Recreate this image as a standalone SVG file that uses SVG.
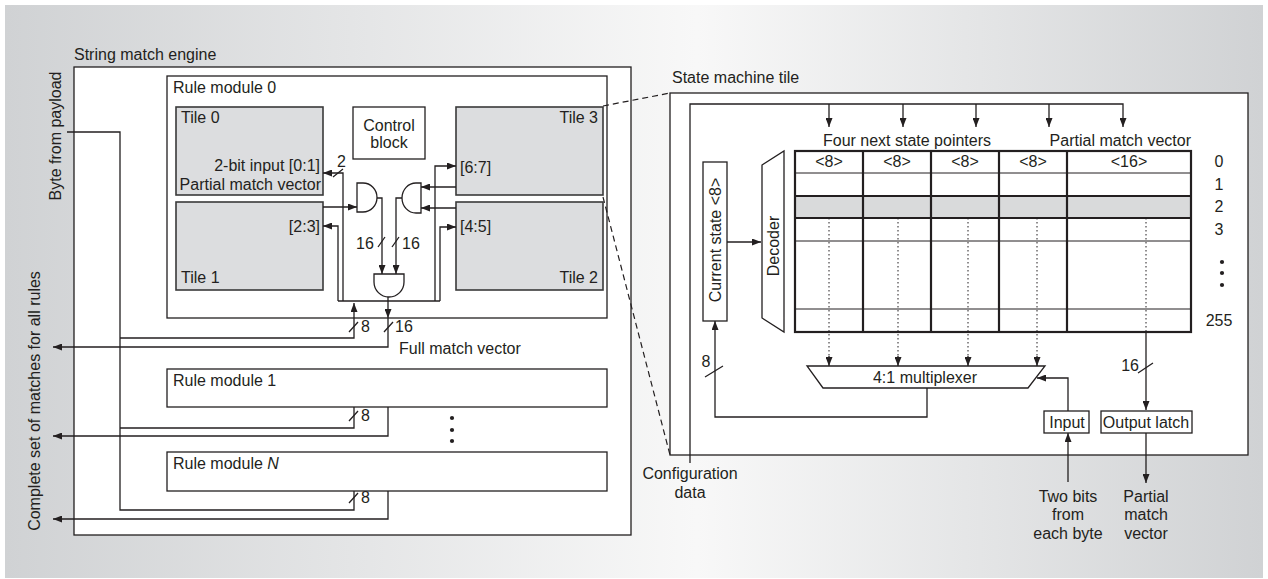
<svg xmlns="http://www.w3.org/2000/svg" width="1268" height="579" viewBox="0 0 1268 579">
<defs>
<linearGradient id="bg" x1="0" y1="0" x2="1" y2="0">
<stop offset="0" stop-color="#d0d2d4"/>
<stop offset="0.55" stop-color="#f8f8f8"/>
<stop offset="1" stop-color="#d0d2d4"/>
</linearGradient>
<marker id="ah" markerWidth="9" markerHeight="7" refX="9" refY="3.5" orient="auto" markerUnits="userSpaceOnUse">
<path d="M0,0 L9,3.5 L0,7 z" fill="#231f20"/>
</marker>
</defs>
<style>
.ln{fill:none;stroke:#231f20;stroke-width:1.3}
.ar{fill:none;stroke:#231f20;stroke-width:1.3;marker-end:url(#ah)}
.dt{fill:none;stroke:#231f20;stroke-width:1;stroke-dasharray:1.5,2.5}
.dash{fill:none;stroke:#231f20;stroke-width:1.2;stroke-dasharray:6,4}
.box{fill:#fff;stroke:#231f20;stroke-width:1.3}
.tile{fill:#dcdddf;stroke:#3a3a3a;stroke-width:1.6}
.thick{fill:none;stroke:#231f20;stroke-width:2.2}
.thin{fill:none;stroke:#231f20;stroke-width:1}
.t{font-family:"Liberation Sans",Arial,sans-serif;font-size:16px;fill:#231f20}
.m{text-anchor:middle}
.e{text-anchor:end}
</style>
<rect x="5" y="5" width="1258" height="573" fill="url(#bg)"/>

<g id="string-match-engine">
<rect class="box" x="74" y="67" width="557" height="468"/>
<text class="t" x="74" y="60">String match engine</text>
</g>
<text class="t m" transform="translate(61,136) rotate(-90)">Byte from payload</text>
<text class="t m" transform="translate(40,401) rotate(-90)">Complete set of matches for all rules</text>

<g id="rule-module-0">
<rect class="box" x="167" y="76" width="440" height="242"/>
<text class="t" x="173" y="93">Rule module 0</text>
</g>
<g id="tile-0">
<rect class="tile" x="176" y="107" width="147" height="88"/>
<text class="t" x="181" y="123">Tile 0</text>
<text class="t e" x="320" y="171">2-bit input [0:1]</text>
<text class="t e" x="321" y="190">Partial match vector</text>
</g>
<g id="tile-1">
<rect class="tile" x="176" y="202" width="147" height="88"/>
<text class="t e" x="320" y="232">[2:3]</text>
<text class="t" x="181" y="283">Tile 1</text>
</g>
<g id="tile-3">
<rect class="tile" x="456" y="107" width="147" height="88"/>
<text class="t e" x="598" y="123">Tile 3</text>
<text class="t" x="460" y="173">[6:7]</text>
</g>
<g id="tile-2">
<rect class="tile" x="456" y="202" width="147" height="88"/>
<text class="t" x="460" y="232">[4:5]</text>
<text class="t e" x="598" y="283">Tile 2</text>
</g>
<g id="control-block">
<rect class="box" x="353" y="107" width="72" height="52"/>
<text class="t m" x="389" y="131">Control</text>
<text class="t m" x="389" y="148">block</text>
</g>
<g id="and-left"><path class="box" d="M357,183 H363 A14,14.5 0 0 1 363,212 H357 Z"/></g>
<g id="and-right"><path class="box" d="M421,183 H416 A14,15 0 0 0 416,213 H421 Z"/></g>
<g id="and-bottom"><path class="box" d="M374,274 H404 V282 A15,15 0 0 1 374,282 Z"/></g>

<g id="rule-module-1">
<rect class="box" x="167" y="369" width="440" height="38"/>
<text class="t" x="173" y="386">Rule module 1</text>
</g>
<g id="rule-module-n">
<rect class="box" x="167" y="452" width="440" height="39"/>
<text class="t" x="173" y="469">Rule module <tspan font-style="italic">N</tspan></text>
</g>
<g id="dots-left" fill="#231f20">
<circle cx="452" cy="418" r="2.1"/><circle cx="452" cy="430" r="2.1"/><circle cx="452" cy="441" r="2.1"/>
</g>

<g id="state-machine-tile">
<rect class="box" x="670" y="93" width="578" height="362"/>
<text class="t" x="672" y="83">State machine tile</text>
</g>
<g id="current-state">
<rect class="box" x="703" y="162" width="24" height="159"/>
<text class="t m" transform="translate(721,240) rotate(-90)">Current state &lt;8&gt;</text>
</g>
<g id="decoder">
<polygon class="box" points="762,165 784,151 784,332 762,318"/>
<text class="t m" transform="translate(779,246) rotate(-90)">Decoder</text>
</g>
<g id="table">
<rect x="795" y="196" width="396" height="22" fill="#d9dadb"/>
<line class="thin" x1="795" y1="173" x2="1191" y2="173"/>
<line class="thick" x1="795" y1="196" x2="1191" y2="196"/>
<line class="thick" x1="795" y1="218" x2="1191" y2="218"/>
<line class="thin" x1="795" y1="241" x2="1191" y2="241"/>
<line class="thin" x1="795" y1="309" x2="1191" y2="309"/>
<line class="thick" x1="863" y1="151" x2="863" y2="332"/>
<line class="thick" x1="931" y1="151" x2="931" y2="332"/>
<line class="thick" x1="999" y1="151" x2="999" y2="332"/>
<line class="thick" x1="1067" y1="151" x2="1067" y2="332"/>
<rect class="thick" x="795" y="151" width="396" height="181"/>
<text class="t m" x="829" y="167">&lt;8&gt;</text>
<text class="t m" x="897" y="167">&lt;8&gt;</text>
<text class="t m" x="965" y="167">&lt;8&gt;</text>
<text class="t m" x="1033" y="167">&lt;8&gt;</text>
<text class="t m" x="1129" y="167">&lt;16&gt;</text>
<text class="t m" x="907" y="146">Four next state pointers</text>
<text class="t e" x="1191" y="146">Partial match vector</text>
<text class="t m" x="1219" y="167">0</text>
<text class="t m" x="1219" y="190">1</text>
<text class="t m" x="1219" y="212">2</text>
<text class="t m" x="1219" y="235">3</text>
<circle cx="1222" cy="262" r="2.1" fill="#231f20"/>
<circle cx="1222" cy="273" r="2.1" fill="#231f20"/>
<circle cx="1222" cy="285" r="2.1" fill="#231f20"/>
<text class="t m" x="1219" y="326">255</text>
</g>
<g id="multiplexer">
<polygon class="box" points="807,366 1045,366 1028,388 823,388"/>
<text class="t m" x="925" y="383">4:1 multiplexer</text>
</g>
<g id="input">
<rect class="box" x="1044" y="411" width="45" height="22"/>
<text class="t m" x="1067" y="428">Input</text>
</g>
<g id="output-latch">
<rect class="box" x="1101" y="411" width="91" height="22"/>
<text class="t m" x="1146" y="428">Output latch</text>
</g>
<g id="labels-right">
<text class="t m" x="690" y="479">Configuration</text>
<text class="t m" x="690" y="498">data</text>
<text class="t m" x="1068" y="502">Two bits</text>
<text class="t m" x="1068" y="520">from</text>
<text class="t m" x="1068" y="539">each byte</text>
<text class="t m" x="1146" y="502">Partial</text>
<text class="t m" x="1146" y="520">match</text>
<text class="t m" x="1146" y="539">vector</text>
</g>

<g id="connectors">
<path class="ln" d="M67,132 H120 V510 H354 V491"/>
<path class="ar" d="M120,338 H354 V303"/>
<path class="ln" d="M120,428 H354 V407"/>
<path class="ar" d="M388,297 V318"/>
<path class="ar" d="M388,318 V347 H53"/>
<path class="ar" d="M388,407 V436 H53"/>
<path class="ar" d="M388,491 V519 H53"/>
<path class="ln" d="M349,332 L358,322 M349,421 L358,411 M349,503 L358,493 M384,332 L393,322"/>
<text class="t" x="361" y="332">8</text>
<text class="t" x="361" y="421">8</text>
<text class="t" x="361" y="503">8</text>
<text class="t" x="395" y="332">16</text>
<text class="t" x="399" y="354">Full match vector</text>

<path class="ln" d="M338,301 H440"/>
<path class="ar" d="M343,301 V173 H323"/>
<path class="ar" d="M338,301 V226 H323"/>
<path class="ar" d="M435,301 V166 H456"/>
<path class="ar" d="M440,301 V227 H456"/>
<path class="ar" d="M323,207 H357"/>
<path class="ar" d="M456,187 H421"/>
<path class="ar" d="M456,208 H421"/>
<path class="ar" d="M377,198 H382 V274"/>
<path class="ar" d="M402,198 H396 V274"/>
<path class="ln" d="M333,177 L343,169 M378,247 L385,237 M392,247 L399,237"/>
<text class="t" x="337" y="167">2</text>
<text class="t" x="356" y="249">16</text>
<text class="t" x="402" y="249">16</text>

<path class="dash" d="M603,106 L670,93"/>
<path class="dash" d="M603,197 L670,455"/>

<path class="ar" d="M690,463 V104 H1123 V127"/>
<path class="ar" d="M829,104 V127"/>
<path class="ar" d="M903,104 V127"/>
<path class="ar" d="M976,104 V127"/>
<path class="ar" d="M1049,104 V127"/>
<path class="ar" d="M727,242 H761"/>
<path class="dt" d="M829,218 V358 M898,218 V358 M968,218 V358 M1037,218 V358 M1146,218 V332"/>
<path class="ar" d="M829,356 V366"/>
<path class="ar" d="M898,356 V366"/>
<path class="ar" d="M968,356 V366"/>
<path class="ar" d="M1037,356 V366"/>
<path class="ar" d="M1146,332 V410"/>
<path class="ar" d="M927,388 V417 H715 V321"/>
<path class="ln" d="M705,377 L723,366 M1138,373 L1153,363"/>
<text class="t m" x="706" y="367">8</text>
<text class="t e" x="1139" y="371">16</text>
<path class="ar" d="M1068,482 V433"/>
<path class="ar" d="M1068,411 V378 H1037"/>
<path class="ar" d="M1146,433 V483"/>
</g>
</svg>
